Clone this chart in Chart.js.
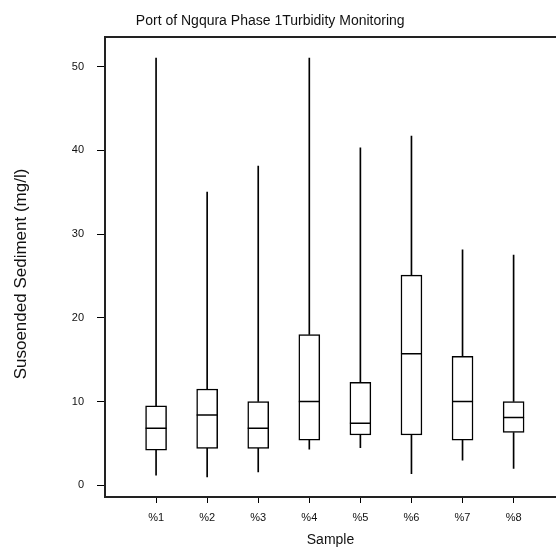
<!DOCTYPE html>
<html>
<head>
<meta charset="utf-8">
<script src="https://cdn.jsdelivr.net/npm/chart.js@4/dist/chart.umd.min.js"></script>
<style>
    body { margin: 0; background: #fff; }
</style>
</head>
<body>
<canvas id="chart" width="556" height="550"></canvas>
<script>
// box plot values per sample (mg/l)
const samples = ['%1', '%2', '%3', '%4', '%5', '%6', '%7', '%8'];
const minValues = [1.2, 1.0, 1.6, 4.3, 4.5, 1.4, 3.0, 2.0];
const q1Values = [4.2, 4.4, 4.4, 5.4, 6.0, 6.0, 5.4, 6.3];
const medianValues = [6.8, 8.4, 6.8, 10.0, 7.4, 15.7, 10.0, 8.1];
const q3Values = [9.5, 11.5, 10.0, 18.0, 12.3, 25.1, 15.4, 10.0];
const maxValues = [51.0, 35.0, 38.1, 51.0, 40.3, 41.7, 28.1, 27.5];
const yTicks = [0, 10, 20, 30, 40, 50];

const xPos = samples.map((s, i) => i + 1);
const black = '#000';
const axisColor = '#222';
const fontFamily = 'Liberation Sans, Arial, sans-serif';

const lowerWhisker = xPos.map((x, i) => ({x: x, y: [minValues[i], q1Values[i]]}));
const upperWhisker = xPos.map((x, i) => ({x: x, y: [q3Values[i], maxValues[i]]}));
const boxes = xPos.map((x, i) => ({x: x, y: [q1Values[i], q3Values[i]]}));
const medians = xPos.map((x, i) => ({x: x, y: medianValues[i]}));

const ctx = document.getElementById('chart').getContext('2d');
new Chart(ctx, {
    type: 'bar',
    data: {
        datasets: [
            {
                data: lowerWhisker,
                backgroundColor: black,
                barThickness: 1,
                grouped: false,
                order: 3
            },
            {
                data: upperWhisker,
                backgroundColor: black,
                barThickness: 1,
                grouped: false,
                order: 3
            },
            {
                data: boxes,
                backgroundColor: '#fff',
                borderColor: black,
                borderWidth: 1.5,
                borderSkipped: false,
                barThickness: 21,
                grouped: false,
                order: 2
            },
            {
                type: 'scatter',
                data: medians,
                pointStyle: 'line',
                pointRadius: 10.5,
                pointHoverRadius: 10.5,
                borderColor: black,
                borderWidth: 1.5,
                order: 1
            }
        ]
    },
    options: {
        responsive: false,
        animation: false,
        events: [],
        layout: {padding: 0, autoPadding: false},
        plugins: {
            legend: {display: false},
            tooltip: {enabled: false},
            title: {
                display: true,
                // trailing spaces nudge the centred title left like the original
                text: 'Port of Ngqura Phase 1Turbidity Monitoring    ',
                color: '#111',
                font: {family: fontFamily, size: 14, weight: 'normal'},
                padding: {top: 13, bottom: 7}
            }
        },
        scales: {
            x: {
                type: 'linear',
                position: 'bottom',
                offset: false,
                min: 0,
                max: 8.83,
                afterBuildTicks: (scale) => {
                    scale.ticks = xPos.map(v => ({value: v}));
                },
                afterFit: (scale) => {
                    scale.height = 53;
                    scale.paddingLeft = 0;
                    scale.paddingRight = 0;
                },
                ticks: {
                    callback: (v) => samples[v - 1],
                    color: '#111',
                    font: {family: fontFamily, size: 11},
                    padding: 8,
                    maxRotation: 0
                },
                grid: {
                    offset: false,
                    drawOnChartArea: false,
                    drawTicks: true,
                    tickLength: 6,
                    color: black
                },
                border: {display: true, color: axisColor, width: 2},
                title: {
                    display: true,
                    text: 'Sample',
                    color: '#111',
                    font: {family: fontFamily, size: 14},
                    padding: {top: 0, bottom: 1}
                }
            },
            x2: {
                type: 'linear',
                position: 'top',
                offset: false,
                min: 0,
                max: 8.83,
                ticks: {display: false},
                grid: {display: false, drawTicks: false},
                border: {display: true, color: axisColor, width: 2},
                afterFit: (scale) => {
                    scale.height = 0;
                    scale.paddingLeft = 0;
                    scale.paddingRight = 0;
                }
            },
            y: {
                type: 'linear',
                position: 'left',
                min: -1.4,
                max: 53.55,
                afterBuildTicks: (scale) => {
                    scale.ticks = yTicks.map(v => ({value: v}));
                },
                afterFit: (scale) => {
                    scale.width = 105;
                },
                ticks: {
                    color: '#111',
                    font: {family: fontFamily, size: 11},
                    padding: 13
                },
                grid: {
                    drawOnChartArea: false,
                    drawTicks: true,
                    tickLength: 8,
                    color: black
                },
                border: {display: true, color: axisColor, width: 2},
                title: {
                    display: true,
                    text: 'Susoended Sediment (mg/l)   ',
                    color: '#111',
                    font: {family: fontFamily, size: 17},
                    padding: {top: 11, bottom: 0}
                }
            }
        }
    }
});
</script>
</body>
</html>
